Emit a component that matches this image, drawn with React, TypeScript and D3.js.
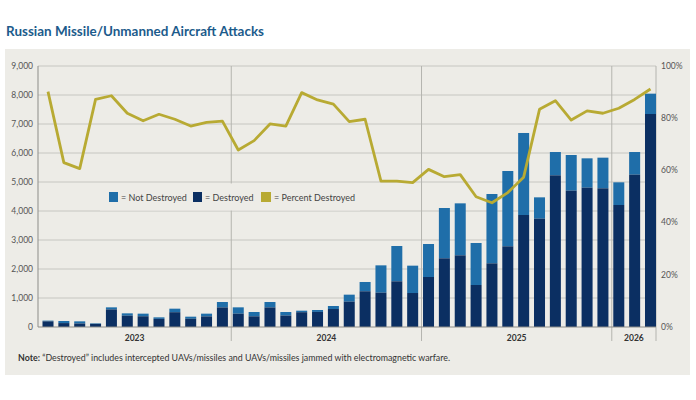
import React from "react";
import * as d3 from "d3";

// monthly attacks, Jan 2023 – Mar 2026
const months = [
  "2023-01", "2023-02", "2023-03", "2023-04", "2023-05", "2023-06",
  "2023-07", "2023-08", "2023-09", "2023-10", "2023-11", "2023-12",
  "2024-01", "2024-02", "2024-03", "2024-04", "2024-05", "2024-06",
  "2024-07", "2024-08", "2024-09", "2024-10", "2024-11", "2024-12",
  "2025-01", "2025-02", "2025-03", "2025-04", "2025-05", "2025-06",
  "2025-07", "2025-08", "2025-09", "2025-10", "2025-11", "2025-12",
  "2026-01", "2026-02", "2026-03",
];

const totalAttacks = [
  220, 207, 195, 126, 678, 471, 460, 333, 632, 356, 460, 862,
  678, 517, 862, 517, 563, 586, 724, 1115, 1552, 2126, 2793, 2115,
  2862, 4103, 4264, 2897, 4586, 5379, 6690, 4471, 6034, 5931, 5816, 5839,
  4989, 6034, 8046,
];

const destroyed = [
  195, 135, 120, 108, 605, 390, 370, 280, 510, 285, 365, 675,
  460, 368, 675, 395, 510, 520, 620, 875, 1232, 1184, 1575, 1172,
  1724, 2368, 2471, 1448, 2195, 2782, 3862, 3736, 5230, 4701, 4805, 4782,
  4207, 5253, 7345,
];

const percentDestroyed = [
  90.2, 63, 60.7, 87.2, 88.6, 81.9, 79, 81.5, 79.6, 77, 78.4, 78.9,
  67.8, 71.4, 77.8, 77, 89.8, 87, 85.4, 78.7, 79.6, 55.9, 55.9, 55.3,
  60.4, 57.6, 58.4, 49.9, 47.6, 51.5, 57.4, 83.4, 86.7, 79.3, 82.8, 81.9,
  83.8, 87.2, 91.2,
];

const years = ["2023", "2024", "2025", "2026"];
const countTicks = [0, 1000, 2000, 3000, 4000, 5000, 6000, 7000, 8000, 9000];
const pctTicks = [0, 20, 40, 60, 80, 100];

const LIGHT = "#1f6ea9";
const DARK = "#0b2f62";
const GOLD = "#b8aa33";
const FONT = "Lato, 'Noto Sans', sans-serif";

export default function App() {
  const left = 38;
  const right = 656;
  const top = 66;
  const bottom = 327;

  const x = d3
    .scaleBand<string>()
    .domain(months)
    .range([42.5, right])
    .paddingInner(0.306)
    .paddingOuter(0);

  const y = d3.scaleLinear().domain([0, 9000]).range([bottom, top]);
  const yPct = d3.scaleLinear().domain([0, 100]).range([bottom, top]);

  const line = d3
    .line<number>()
    .x((_, i) => x(months[i])! + x.bandwidth() / 2)
    .y((d) => yPct(d));

  // year boundaries: just before the first month of each year
  const yearStart = years.map((yr) => {
    const first = months.find((m) => m.startsWith(yr))!;
    return x(first)! - 1.5;
  });
  const yearEdges = [left, ...yearStart.slice(1), right];

  return (
    <svg
      width={696}
      height={400}
      style={{ position: "absolute", left: 0, top: 0, background: "#fff" }}
      fontFamily={FONT}
    >
      <text x={6} y={36} fontSize={13.5} fontWeight={700} fill="#1c5b8b" textLength={258} lengthAdjust="spacingAndGlyphs">
        Russian Missile/Unmanned Aircraft Attacks
      </text>

      <rect x={5} y={49} width={685} height={326} fill="#edece7" />

      {/* horizontal gridlines */}
      {countTicks.slice(1).map((t) => (
        <line key={t} x1={left} x2={right} y1={y(t)} y2={y(t)} stroke="#c6c6c1" strokeWidth={1} />
      ))}

      {/* year dividers + right border */}
      {[...yearStart.slice(1), right].map((xx, i) => (
        <line key={i} x1={xx} x2={xx} y1={top} y2={341} stroke="#b4b4af" strokeWidth={1} />
      ))}

      {/* legend (sits on a patch of panel colour) */}
      <rect x={100} y={183.5} width={260} height={27} fill="#edece7" />
      <g fontSize={9} fill="#444">
        <rect x={109} y={192} width={9} height={10} fill={LIGHT} />
        <text x={121} y={200.5}>= Not Destroyed</text>
        <rect x={193} y={192} width={9} height={10} fill={DARK} />
        <text x={205} y={200.5}>= Destroyed</text>
        <rect x={261} y={192} width={10} height={10} fill={GOLD} />
        <text x={274} y={200.5}>= Percent Destroyed</text>
      </g>

      {/* stacked bars */}
      {months.map((m, i) => (
        <g key={m}>
          <rect x={x(m)} y={y(totalAttacks[i])} width={x.bandwidth()} height={y(destroyed[i]) - y(totalAttacks[i])} fill={LIGHT} />
          <rect x={x(m)} y={y(destroyed[i])} width={x.bandwidth()} height={bottom - y(destroyed[i])} fill={DARK} />
        </g>
      ))}

      {/* percent destroyed line */}
      <path d={line(percentDestroyed)!} fill="none" stroke={GOLD} strokeWidth={2.8} strokeLinejoin="round" />

      {/* axes */}
      <line x1={left} x2={left} y1={top} y2={bottom} stroke="#8d8d89" strokeWidth={1} />
      <line x1={left} x2={right} y1={bottom} y2={bottom} stroke="#8d8d89" strokeWidth={1} />

      <g fontSize={8.5} fill="#555" textAnchor="end">
        {countTicks.map((t) => (
          <text key={t} x={33} y={y(t)} dy="0.33em">
            {d3.format(",")(t)}
          </text>
        ))}
      </g>
      <g fontSize={8.5} fill="#555">
        {pctTicks.map((t) => (
          <text key={t} x={661} y={yPct(t)} dy="0.33em">
            {t}%
          </text>
        ))}
      </g>

      <g fontSize={8.5} fontWeight={700} fill="#333" textAnchor="middle">
        {years.map((yr, i) => (
          <text key={yr} x={(yearEdges[i] + yearEdges[i + 1]) / 2} y={341}>
            {yr}
          </text>
        ))}
      </g>

      <text x={18} y={360.5} fontSize={8.5} fill="#333" textLength={432} lengthAdjust="spacingAndGlyphs">
        <tspan fontWeight={700}>Note:</tspan> “Destroyed” includes intercepted UAVs/missiles and UAVs/missiles jammed with electromagnetic warfare.
      </text>
    </svg>
  );
}
